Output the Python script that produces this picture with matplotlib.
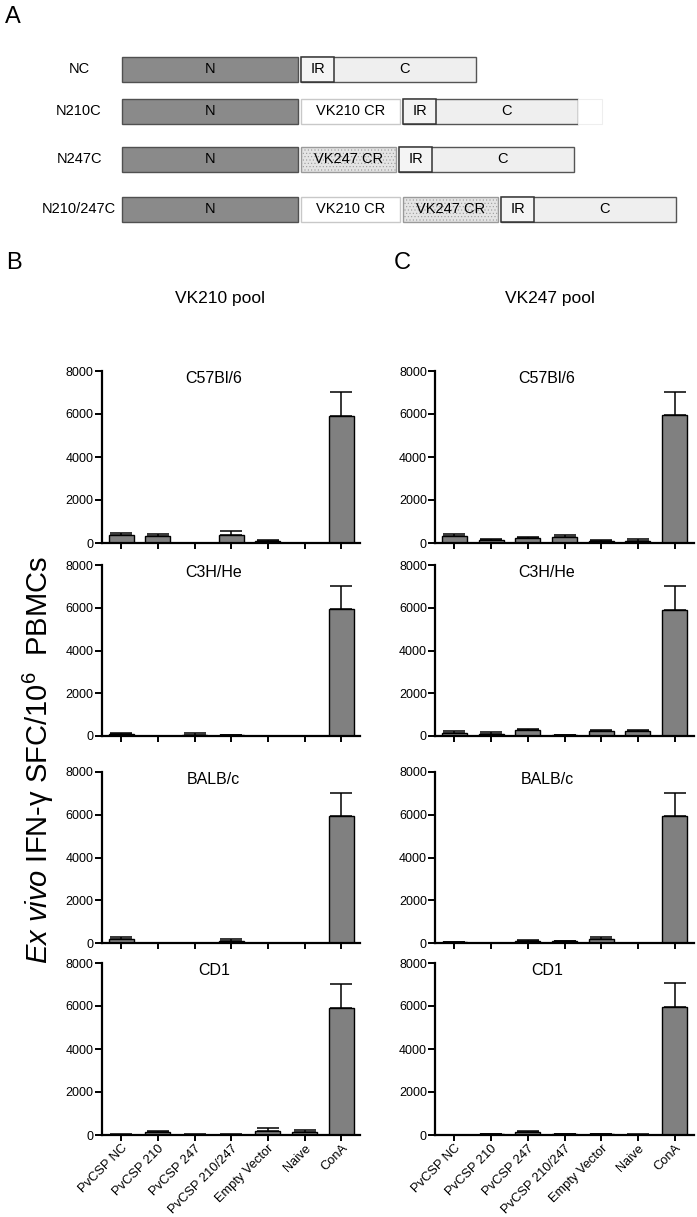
import numpy as np
import matplotlib.pyplot as plt
from matplotlib.patches import Rectangle

plt.rcParams['font.family'] = ['Liberation Sans', 'DejaVu Sans']
plt.rcParams['mathtext.fontset'] = 'custom'
plt.rcParams['mathtext.rm'] = 'Liberation Sans'
plt.rcParams['mathtext.it'] = 'Liberation Sans:italic'

# ---- data ----
groups = ['PvCSP NC', 'PvCSP 210', 'PvCSP 247', 'PvCSP 210/247',
          'Empty Vector', 'Naive', 'ConA']
strains = ['C57Bl/6', 'C3H/He', 'BALB/c', 'CD1']
pools = ['VK210 pool', 'VK247 pool']

# mean SFC / 10^6 PBMCs and upper SEM, VK210 pool
vk210_mean = {
    'C57Bl/6': [360, 330, 0, 390, 90, 0, 5920],
    'C3H/He':  [90, 10, 70, 30, 0, 10, 5920],
    'BALB/c':  [200, 0, 0, 95, 0, 0, 5920],
    'CD1':     [20, 125, 15, 20, 200, 125, 5920],
}
vk210_err = {
    'C57Bl/6': [110, 90, 0, 160, 50, 0, 1100],
    'C3H/He':  [60, 10, 50, 30, 0, 10, 1100],
    'BALB/c':  [65, 0, 0, 75, 0, 0, 1100],
    'CD1':     [10, 75, 10, 10, 125, 105, 1100],
}
# VK247 pool
vk247_mean = {
    'C57Bl/6': [345, 125, 220, 280, 95, 110, 5940],
    'C3H/He':  [155, 110, 265, 45, 215, 215, 5900],
    'BALB/c':  [30, 0, 110, 80, 200, 0, 5920],
    'CD1':     [10, 40, 125, 50, 25, 20, 5950],
}
vk247_err = {
    'C57Bl/6': [95, 75, 60, 110, 45, 60, 1090],
    'C3H/He':  [95, 75, 75, 20, 80, 80, 1100],
    'BALB/c':  [15, 0, 30, 30, 100, 0, 1100],
    'CD1':     [10, 15, 45, 15, 10, 10, 1130],
}

# panel A constructs
constructs = ['NC', 'N210C', 'N247C', 'N210/247C']
construct_parts = [
    [],
    ['VK210 CR'],
    ['VK247 CR'],
    ['VK210 CR', 'VK247 CR'],
]

W, H = 697, 1217
fig = plt.figure(figsize=(W / 100, H / 100), dpi=100)


def px_axes(x0, y0, x1, y1):
    return fig.add_axes([x0 / W, 1 - y1 / H, (x1 - x0) / W, (y1 - y0) / H])


# ---- panel A: schematic ----
axA = fig.add_axes([0, 0, 1, 1])
axA.set_xlim(0, W)
axA.set_ylim(H, 0)
axA.axis('off')

row_y = [69, 111, 159, 209]
box_h = 25
part_w = {'VK210 CR': 99, 'VK247 CR': 95}
part_style = {
    'VK210 CR': dict(facecolor='white', edgecolor='#c8c8c8', hatch=None),
    'VK247 CR': dict(facecolor='#e4e4e4', edgecolor='#9a9a9a', hatch='.....'),
}
plt.rcParams['hatch.color'] = '#b5b5b5'
plt.rcParams['hatch.linewidth'] = 0.4

for name, parts, yc in zip(constructs, construct_parts, row_y):
    top = yc - box_h / 2
    axA.text(79, yc, name, ha='center', va='center', fontsize=10.5)
    x = 122
    axA.add_patch(Rectangle((x, top), 176, box_h, facecolor='#8a8a8a',
                            edgecolor='#505050', lw=1.0))
    axA.text(x + 88, yc, 'N', ha='center', va='center', fontsize=10.5)
    x += 176 + 3
    for p in parts:
        st = part_style[p]
        axA.add_patch(Rectangle((x, top), part_w[p], box_h, lw=1.0, **st))
        axA.text(x + part_w[p] / 2, yc, p, ha='center', va='center', fontsize=10.5)
        x += part_w[p] + 3
    # C domain with IR at its start
    axA.add_patch(Rectangle((x, top), 175, box_h, facecolor='#efefef',
                            edgecolor='#555555', lw=1.0))
    axA.add_patch(Rectangle((x, top), 33, box_h, facecolor='#f4f4f4',
                            edgecolor='#333333', lw=1.1))
    axA.text(x + 16.5, yc, 'IR', ha='center', va='center', fontsize=10.5)
    axA.text(x + 33 + 71, yc, 'C', ha='center', va='center', fontsize=10.5)
    if name == 'N210C':
        axA.add_patch(Rectangle((x + 175, top), 24, box_h, facecolor='white',
                                edgecolor='#eeeeee', lw=0.8))

fig.text(13 / W, 1 - 17 / H, 'A', fontsize=17, ha='center', va='center')
fig.text(14 / W, 1 - 263 / H, 'B', fontsize=17, ha='center', va='center')
fig.text(402 / W, 1 - 263 / H, 'C', fontsize=17, ha='center', va='center')

# ---- panels B and C ----
col_x = [(101.7, 360.4), (435, 693.7)]
row_tb = [(371, 543), (565, 736), (772, 943), (963, 1135)]
pool_x = [220, 550]
means = [vk210_mean, vk247_mean]
errs = [vk210_err, vk247_err]
xpos = np.arange(len(groups))

for c, (x0, x1) in enumerate(col_x):
    fig.text(pool_x[c] / W, 1 - 298 / H, pools[c], fontsize=12.5,
             ha='center', va='center')
    for r, (t, b) in enumerate(row_tb):
        ax = px_axes(x0, t, x1, b)
        s = strains[r]
        m = means[c][s]
        e = errs[c][s]
        ax.bar(xpos, m, width=0.68, color='#808080', edgecolor='black',
               linewidth=1.0, zorder=2)
        ax.errorbar(xpos, m, yerr=[np.zeros(len(e)), e], fmt='none',
                    ecolor='black', elinewidth=1.1, capsize=8, capthick=1.1,
                    zorder=1)
        ax.set_xlim(-0.53, 6.52)
        ax.set_ylim(0, 8000)
        ax.set_yticks([0, 2000, 4000, 6000, 8000])
        ax.set_xticks(xpos)
        for sp in ['top', 'right']:
            ax.spines[sp].set_visible(False)
        for sp in ['left', 'bottom']:
            ax.spines[sp].set_linewidth(1.6)
        ax.tick_params(axis='y', length=4.8, width=1.4, labelsize=9, pad=1)
        ax.tick_params(axis='x', length=4.3, width=1.4, labelsize=9.3, pad=1)
        if r == len(row_tb) - 1:
            ax.set_xticklabels(groups, rotation=45, ha='right',
                               rotation_mode='anchor')
        else:
            ax.set_xticklabels([])
        ax.text(0.433, 0.955, s, transform=ax.transAxes, fontsize=11.5,
                ha='center', va='center')

fig.text(38 / W, 1 - 760 / H,
         r'$\mathit{Ex\ vivo}$ IFN-γ SFC/10$^{6}$  PBMCs',
         rotation=90, fontsize=21, ha='center', va='center')

fig.savefig('out.png', dpi=100)
